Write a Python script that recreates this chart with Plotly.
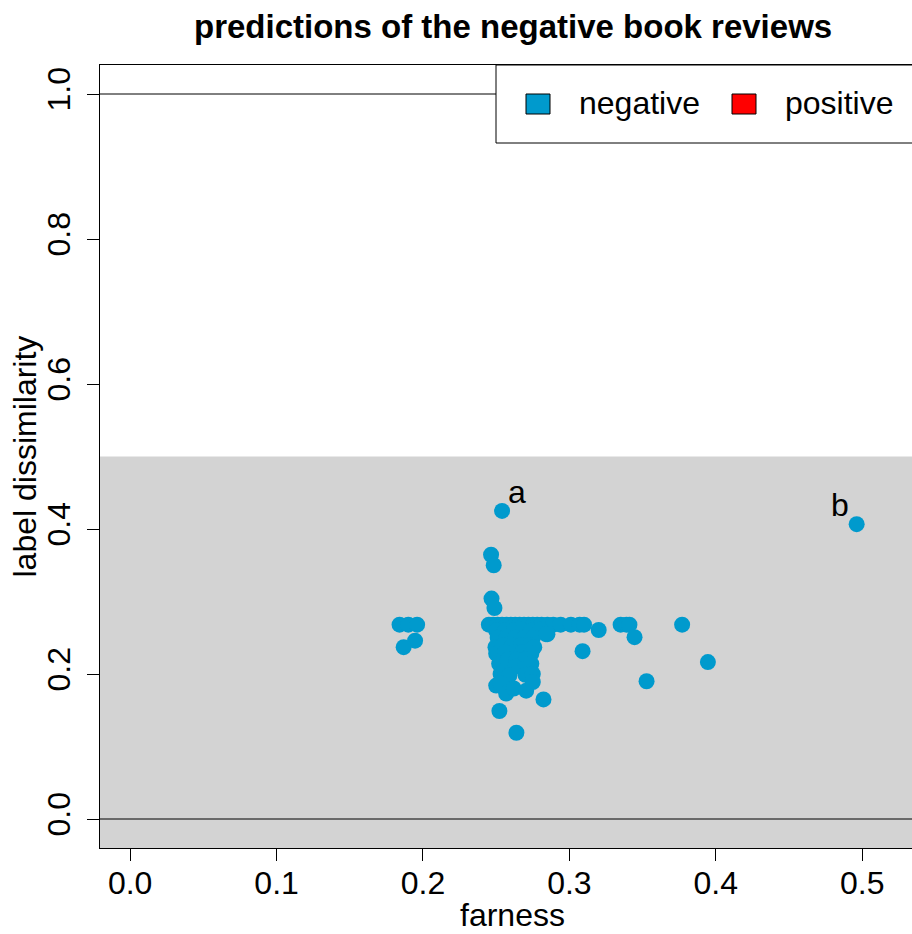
import plotly.graph_objects as go

# ---------------- data ----------------
farness = [
    0.184, 0.190, 0.196, 0.1946, 0.1868,
    0.2465, 0.2483, 0.2468, 0.2488, 0.254,
    0.245, 0.248, 0.251, 0.254, 0.257, 0.260, 0.263, 0.266, 0.269, 0.272,
    0.275, 0.278, 0.281, 0.285, 0.289, 0.294, 0.301, 0.307, 0.310, 0.335,
    0.339, 0.341, 0.377,
    0.320, 0.309, 0.3445, 0.3946, 0.3527, 0.285, 0.4962,
    0.2823, 0.2522, 0.2638,
    0.250, 0.256, 0.262, 0.268, 0.274, 0.280,
    0.251, 0.257, 0.263, 0.269, 0.275, 0.284,
    0.2495, 0.255, 0.261, 0.267, 0.273, 0.276,
    0.250, 0.256, 0.262, 0.268, 0.274,
    0.252, 0.258, 0.264, 0.270, 0.274,
    0.257, 0.263, 0.269,
    0.253, 0.259, 0.270, 0.275,
    0.250, 0.253, 0.2568, 0.262, 0.2705, 0.275,
]
dissimilarity = [
    0.268, 0.268, 0.268, 0.246, 0.237,
    0.3645, 0.350, 0.304, 0.291, 0.425,
    0.268, 0.268, 0.268, 0.268, 0.268, 0.268, 0.268, 0.268, 0.268, 0.268,
    0.268, 0.268, 0.268, 0.268, 0.268, 0.268, 0.268, 0.268, 0.268, 0.268,
    0.268, 0.268, 0.268,
    0.2607, 0.2315, 0.2508, 0.2164, 0.190, 0.255, 0.4067,
    0.165, 0.149, 0.119,
    0.260, 0.260, 0.260, 0.260, 0.260, 0.261,
    0.250, 0.250, 0.250, 0.250, 0.250, 0.255,
    0.237, 0.240, 0.240, 0.240, 0.240, 0.237,
    0.228, 0.230, 0.230, 0.230, 0.228,
    0.214, 0.220, 0.220, 0.220, 0.214,
    0.208, 0.210, 0.207,
    0.200, 0.198, 0.199, 0.200,
    0.184, 0.187, 0.173, 0.180, 0.177, 0.189,
]
# labelled points: (label, index into the arrays)
point_labels = ["a", "b"]
point_label_index = [9, 39]

x_ticks = [0.0, 0.1, 0.2, 0.3, 0.4, 0.5]
y_ticks = [0.0, 0.2, 0.4, 0.6, 0.8, 1.0]
legend_labels = ["negative", "positive"]
legend_colors = ["#009ACD", "#FF0000"]

title_text = "predictions of the negative book reviews"
x_title = "farness"
y_title = "label dissimilarity"

# ---------------- styling / layout ----------------
W, H = 912, 934
ML, MR, MT, MB = 100, 0, 65, 86
PW, PH = W - ML - MR, H - MT - MB
FONT = "Liberation Sans, Arial, Helvetica, sans-serif"
FS = 32


def px_x(p):
    return (p - ML) / PW


def px_y(p):
    return (H - MB - p) / PH


x_range = [-0.0206, 0.534]
y_range = [-0.04, 1.04]

fig = go.Figure()
fig.add_trace(go.Scatter(
    x=farness, y=dissimilarity, mode="markers",
    marker=dict(size=16, color=legend_colors[0], line=dict(width=0)),
    showlegend=False, hoverinfo="x+y",
))

shapes = [
    # grey region
    dict(type="rect", xref="paper", yref="y", x0=0, x1=1, y0=y_range[0], y1=0.5,
         fillcolor="#D3D3D3", line=dict(width=0), layer="below"),
    # reference lines
    dict(type="line", xref="paper", yref="y", x0=0, x1=1, y0=0, y1=0,
         line=dict(color="black", width=1), layer="below"),
    dict(type="line", xref="paper", yref="y", x0=0, x1=1, y0=1, y1=1,
         line=dict(color="black", width=1), layer="below"),
    # legend box
    dict(type="rect", xref="paper", yref="paper", x0=px_x(496), x1=1.05,
         y0=px_y(143), y1=1.0, fillcolor="white",
         line=dict(color="black", width=1), layer="above"),
]
annotations = []

key_x = [(526, 550), (732, 756)]
text_x = [577, 783]
for (kx0, kx1), tx, lab, col in zip(key_x, text_x, legend_labels, legend_colors):
    shapes.append(dict(type="rect", xref="paper", yref="paper",
                       x0=px_x(kx0), x1=px_x(kx1), y0=px_y(114), y1=px_y(94),
                       fillcolor=col, line=dict(color="black", width=1), layer="above"))
    annotations.append(dict(xref="paper", yref="paper", x=px_x(tx), y=px_y(103),
                            text=lab, showarrow=False, xanchor="left", yanchor="middle",
                            font=dict(size=FS, family=FONT, color="black")))

label_shift = {"a": (15, 19), "b": (-17, 19)}
for lab, idx in zip(point_labels, point_label_index):
    dx, dy = label_shift[lab]
    annotations.append(dict(xref="x", yref="y", x=farness[idx], y=dissimilarity[idx],
                            text=lab, showarrow=False, xshift=dx, yshift=dy,
                            font=dict(size=FS, family=FONT, color="black")))

# titles
annotations.append(dict(xref="paper", yref="paper", x=px_x(512.5), y=px_y(26.5),
                        text="<b>" + title_text + "</b>", showarrow=False,
                        xanchor="center", yanchor="middle",
                        font=dict(size=33, family=FONT, color="black")))
annotations.append(dict(xref="paper", yref="paper", x=px_x(512), y=px_y(915),
                        text=x_title, showarrow=False,
                        xanchor="center", yanchor="middle",
                        font=dict(size=FS, family=FONT, color="black")))
annotations.append(dict(xref="paper", yref="paper", x=px_x(24), y=0.5,
                        text=y_title, showarrow=False, textangle=-90,
                        xanchor="center", yanchor="middle",
                        font=dict(size=FS, family=FONT, color="black")))

fig.update_layout(
    width=W, height=H,
    margin=dict(l=ML, r=MR, t=MT, b=MB, pad=0),
    paper_bgcolor="white", plot_bgcolor="white",
    font=dict(family=FONT, size=FS, color="black"),
    shapes=shapes, annotations=annotations,
    xaxis=dict(range=x_range, tickvals=x_ticks, ticktext=[f"{v:.1f}" for v in x_ticks],
               showgrid=False, zeroline=False, showline=True, linecolor="black",
               linewidth=1, mirror=True, ticks="outside", ticklen=12,
               tickcolor="black", tickwidth=1, ticklabelstandoff=-5,
               tickfont=dict(size=FS, family=FONT)),
    yaxis=dict(range=y_range, tickvals=y_ticks, ticktext=[f"{v:.1f}" for v in y_ticks],
               showgrid=False, zeroline=False, showline=True, linecolor="black",
               linewidth=1, ticks="outside", ticklen=12, tickcolor="black",
               tickwidth=1, tickangle=-90, ticklabelstandoff=4,
               tickfont=dict(size=FS, family=FONT)),
    showlegend=False,
)

fig.write_html(
    "out.html",
    config={"displayModeBar": False},
    post_script="document.body.style.margin='0px';document.body.style.overflow='hidden';",
)
